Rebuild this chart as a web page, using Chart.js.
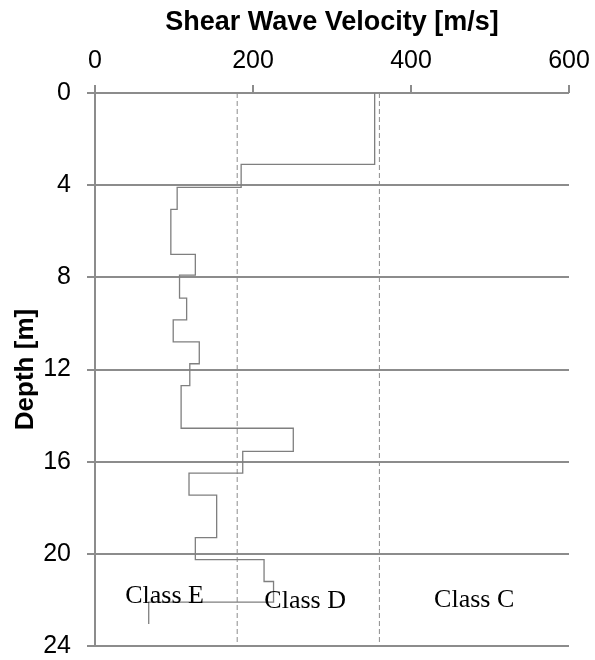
<!DOCTYPE html>
<html>
<head>
<meta charset="utf-8">
<script src="https://cdn.jsdelivr.net/npm/chart.js@4.4.1/dist/chart.umd.min.js"></script>
<style>
  html, body { margin: 0; padding: 0; background: #fff; }
  #wrap { width: 595px; height: 660px; }
</style>
</head>
<body>
<div id="wrap"><canvas id="vsChart" width="595" height="660"></canvas></div>
<script>
// Vs profile: layer top depths [m] and shear wave velocity [m/s]
const layerTop = [0, 3.1, 4.1, 5.05, 7.0, 7.9, 8.9, 9.85, 10.8, 11.75, 12.7, 14.55, 15.55, 16.5, 17.45, 19.3, 20.25, 21.2, 22.1];
const layerVs = [354, 185, 104, 96, 127, 107, 116, 99, 132, 120, 109, 251, 187, 119, 154, 127, 214, 226, 68];
const profileBottom = 23.05;

// site class limits (vertical dashed lines)
const classLimits = [180, 360];
const depthTicks = [0, 4, 8, 12, 16, 20, 24];
const velocityTicks = [0, 200, 400, 600];

// class names placed in data units (velocity, depth)
const classNames = ["Class E", "Class D", "Class C"];
const classX = [88, 266, 480];
const classY = [21.85, 22.07, 22.0];

// build step line points
const stepPoints = [];
layerVs.forEach((v, i) => {
    const bottom = i < layerTop.length - 1 ? layerTop[i + 1] : profileBottom;
    stepPoints.push({ x: v, y: layerTop[i] });
    stepPoints.push({ x: v, y: bottom });
});

const limitSets = classLimits.map(v => ({
    data: [{ x: v, y: depthTicks[0] }, { x: v, y: depthTicks[depthTicks.length - 1] }],
    showLine: true,
    borderColor: "#8c8c8c",
    borderWidth: 1,
    borderDash: [5, 3],
    pointRadius: 0
}));

const classLabels = {
    id: "classLabels",
    afterDatasetsDraw(chart) {
        const ctx = chart.ctx;
        const xs = chart.scales.x, ys = chart.scales.y;
        ctx.save();
        ctx.font = "26px 'Liberation Serif', 'Times New Roman', serif";
        ctx.fillStyle = "#000";
        ctx.textAlign = "center";
        ctx.textBaseline = "middle";
        classNames.forEach((t, i) => {
            ctx.fillText(t, xs.getPixelForValue(classX[i]), ys.getPixelForValue(classY[i]));
        });
        ctx.restore();
    }
};

new Chart(document.getElementById("vsChart").getContext("2d"), {
    type: "scatter",
    data: {
        datasets: [{
            data: stepPoints,
            showLine: true,
            borderColor: "#7f7f7f",
            borderWidth: 1.3,
            pointRadius: 0
        }].concat(limitSets)
    },
    options: {
        responsive: false,
        animation: false,
        layout: { padding: { left: 0, top: 0, right: 26, bottom: 14 } },
        plugins: { legend: { display: false }, tooltip: { enabled: false } },
        scales: {
            x: {
                type: "linear",
                position: "top",
                min: 0,
                max: 600,
                afterBuildTicks: s => { s.ticks = velocityTicks.map(v => ({ value: v })); },
                afterFit: s => { s.height = 93; s.paddingLeft = 0; s.paddingRight = 0; },
                ticks: {
                    padding: 9,
                    color: "#000",
                    font: { family: "'Liberation Sans', Arial, sans-serif", size: 25 }
                },
                grid: { drawOnChartArea: false, drawTicks: true, tickLength: 8, color: "#8c8c8c", lineWidth: 2 },
                border: { display: false },
                title: {
                    display: true,
                    text: "Shear Wave Velocity [m/s]",
                    color: "#000",
                    padding: { top: 6, bottom: 0 },
                    font: { family: "'Liberation Sans', Arial, sans-serif", size: 27, weight: "bold" }
                }
            },
            y: {
                type: "linear",
                reverse: true,
                min: 0,
                max: 24,
                afterBuildTicks: s => { s.ticks = depthTicks.map(v => ({ value: v })); },
                afterFit: s => { s.width = 95; s.paddingTop = 0; s.paddingBottom = 0; },
                ticks: {
                    padding: 16,
                    color: "#000",
                    font: { family: "'Liberation Sans', Arial, sans-serif", size: 25 }
                },
                grid: { drawTicks: true, tickLength: 8, color: "#8c8c8c", lineWidth: 2 },
                border: { display: true, color: "#8c8c8c", width: 2 },
                title: {
                    display: true,
                    text: "Depth [m]",
                    color: "#000",
                    padding: { top: 10, bottom: 0 },
                    font: { family: "'Liberation Sans', Arial, sans-serif", size: 26, weight: "bold" }
                }
            }
        }
    },
    plugins: [classLabels]
});
</script>
</body>
</html>
